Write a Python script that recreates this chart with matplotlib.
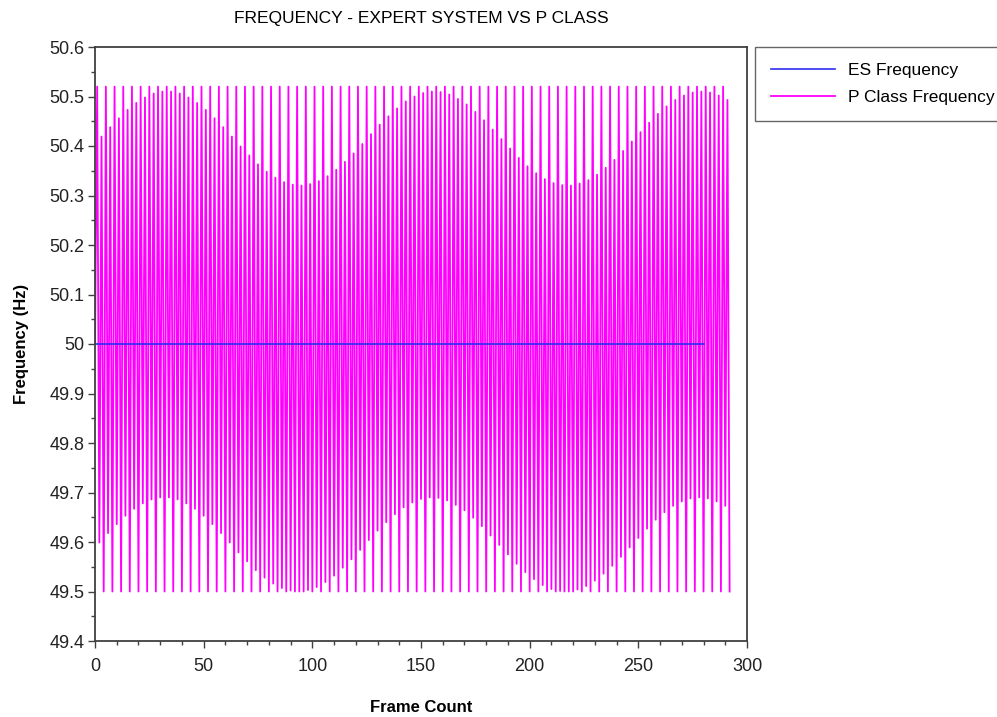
import numpy as np
import matplotlib
matplotlib.use("Agg")
import matplotlib.pyplot as plt
from matplotlib.ticker import MultipleLocator

plt.rcParams["font.family"] = ["Liberation Sans", "DejaVu Sans"]

# ES frequency: flat 50 Hz over frames 0..280
es_frames = np.arange(0, 281)
es_frequency = np.full(es_frames.size, 50.0)

# P class frequency: every 4-frame cycle goes
# top -> lower tip -> upper tip -> bottom
p_start = 50.0
p_top = 50.52
p_bottom = 49.50
p_upper_tip = [
    50.419, 50.438, 50.456, 50.473, 50.487, 50.498, 50.506, 50.510, 50.510, 50.506,
    50.498, 50.487, 50.473, 50.456, 50.438, 50.419, 50.399, 50.381, 50.363, 50.348,
    50.336, 50.327, 50.322, 50.320, 50.323, 50.329, 50.339, 50.352, 50.368, 50.385,
    50.404, 50.424, 50.443, 50.460, 50.476, 50.490, 50.500, 50.507, 50.510, 50.509,
    50.504, 50.495, 50.484, 50.469, 50.452, 50.433, 50.414, 50.395, 50.376, 50.359,
    50.345, 50.333, 50.325, 50.321, 50.320, 50.324, 50.331, 50.342, 50.356, 50.372,
    50.390, 50.409, 50.428, 50.447, 50.465, 50.480, 50.493, 50.502, 50.508, 50.510,
    50.508, 50.502, 50.493,
]
p_lower_tip = [
    49.599, 49.618, 49.636, 49.653, 49.667, 49.678, 49.686, 49.690, 49.690, 49.686,
    49.678, 49.667, 49.653, 49.636, 49.618, 49.599, 49.579, 49.561, 49.543, 49.528,
    49.516, 49.507, 49.502, 49.500, 49.503, 49.509, 49.519, 49.532, 49.548, 49.565,
    49.584, 49.604, 49.623, 49.640, 49.656, 49.670, 49.680, 49.687, 49.690, 49.689,
    49.684, 49.675, 49.664, 49.649, 49.632, 49.613, 49.594, 49.575, 49.556, 49.539,
    49.525, 49.513, 49.505, 49.501, 49.500, 49.504, 49.511, 49.522, 49.536, 49.552,
    49.570, 49.589, 49.608, 49.627, 49.645, 49.660, 49.673, 49.682, 49.688, 49.690,
    49.688, 49.682, 49.673,
]

p_frequency = [p_start]
for up, lo in zip(p_upper_tip, p_lower_tip):
    p_frequency += [p_top, lo, up, p_bottom]
p_frames = np.arange(len(p_frequency))

fig = plt.figure(figsize=(9.97, 7.17), dpi=100)
ax = fig.add_axes([95 / 997, 76 / 717, 652 / 997, 594 / 717])

ax.plot(p_frames, p_frequency, color="#ff00ff", lw=1.3, label="P Class Frequency")
ax.plot(es_frames, es_frequency, color="#2c2cf0", lw=1.2, label="ES Frequency")

ax.set_xlim(0, 300)
ax.set_ylim(49.4, 50.6)
ax.xaxis.set_major_locator(MultipleLocator(50))
ax.xaxis.set_minor_locator(MultipleLocator(10))
ax.yaxis.set_major_locator(MultipleLocator(0.1))
ax.yaxis.set_minor_locator(MultipleLocator(0.05))
ax.yaxis.set_major_formatter(plt.FuncFormatter(lambda v, p: f"{v:g}"))
ax.tick_params(which="major", length=5, width=1, color="#404040",
               labelsize=13, pad=2.5, top=False, right=False, labelcolor="#222222")
ax.tick_params(which="minor", length=3, width=1, color="#404040",
               top=False, right=False)
ax.tick_params(axis="x", which="major", pad=7)
for s in ax.spines.values():
    s.set_color("#404040")
    s.set_linewidth(1.3)

ax.set_title("FREQUENCY - EXPERT SYSTEM VS P CLASS", fontsize=12.5, pad=17)
ax.set_xlabel("Frame Count", fontsize=12, fontweight="bold", labelpad=18)
ax.set_ylabel("Frequency (Hz)", fontsize=12, fontweight="bold", labelpad=15)

handles, labels = ax.get_legend_handles_labels()
fig.legend(handles[::-1], labels[::-1], loc="upper left",
           bbox_to_anchor=(755 / 997, 1 - 47 / 717), borderaxespad=0,
           fontsize=12.5, frameon=True, fancybox=False, edgecolor="#404040",
           handlelength=3.7, handletextpad=0.75, borderpad=0.9,
           labelspacing=0.72)

fig.savefig("out.png", dpi=100)
